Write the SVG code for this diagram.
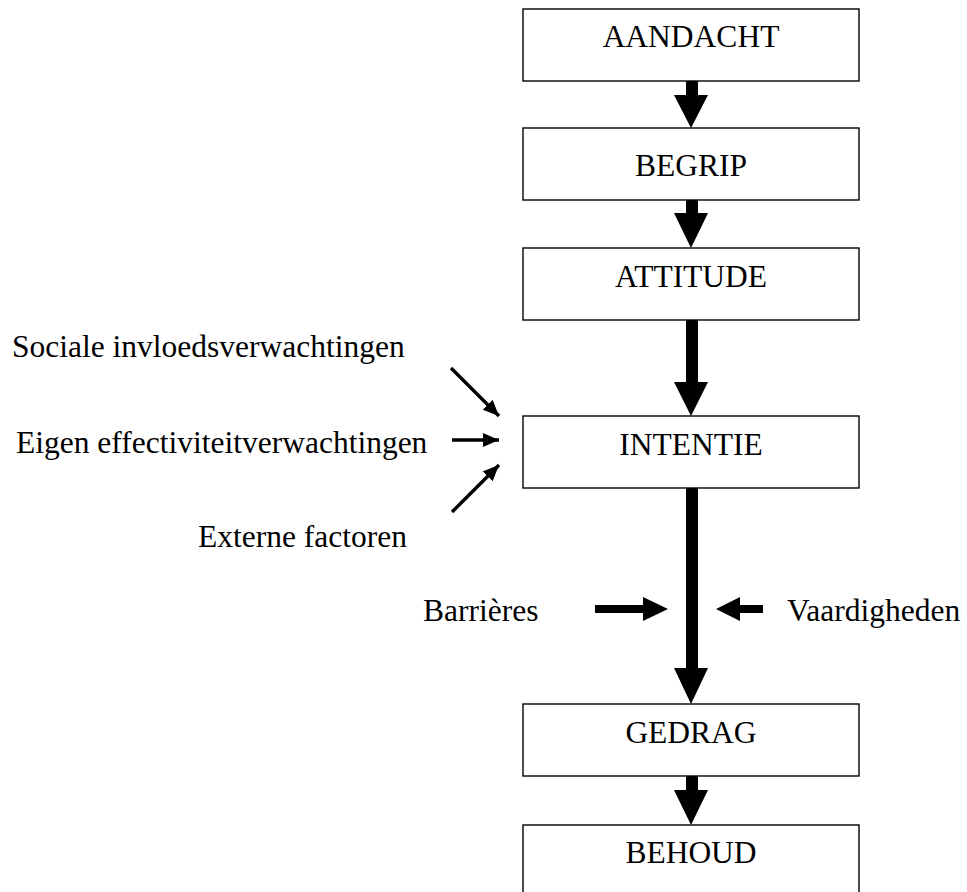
<svg xmlns="http://www.w3.org/2000/svg" width="967" height="892" viewBox="0 0 967 892">
<style>
.box{fill:#fff;stroke:#000;stroke-width:1.4}
.t{font-family:"Liberation Serif","Times New Roman",serif;font-size:31.5px;fill:#000}
.c{text-anchor:middle}
.thin{stroke:#000;stroke-width:3.4;fill:none}
.big{fill:#000;stroke:none}
</style>
<defs>
<marker id="ah" markerUnits="userSpaceOnUse" markerWidth="18" markerHeight="16" refX="16" refY="7" orient="auto">
<path d="M0,0 L16,7 L0,14 Z" fill="#000"/>
</marker>
</defs>
<rect width="967" height="892" fill="#fff"/>
<g id="connectors">
<path class="big" d="M686,80 H698 V95 H708 L691,128 L674,95 H686 Z"/>
<path class="big" d="M686,200 H698 V213 H708 L691,248 L674,213 H686 Z"/>
<path class="big" d="M686,320 H698 V382 H708 L691,416 L674,382 H686 Z"/>
<path class="big" d="M686,488 H698 V668 H708 L691,704 L674,668 H686 Z"/>
<path class="big" d="M686,776 H698 V790 H708 L691,825 L674,790 H686 Z"/>
<path class="big" d="M595,605 H643 V597 L668,609 L643,621 V613 H595 Z"/>
<path class="big" d="M763,605 H740 V597 L716,609 L740,621 V613 H763 Z"/>
<line class="thin" x1="451" y1="368" x2="499" y2="416" marker-end="url(#ah)"/>
<line class="thin" x1="452" y1="440" x2="499" y2="440" marker-end="url(#ah)"/>
<line class="thin" x1="452" y1="512" x2="499" y2="465" marker-end="url(#ah)"/>
</g>
<g id="aandacht"><rect class="box" x="523" y="9" width="336" height="72"/><text class="t c" x="691" y="47">AANDACHT</text></g>
<g id="begrip"><rect class="box" x="523" y="128" width="336" height="72"/><text class="t c" x="691" y="176">BEGRIP</text></g>
<g id="attitude"><rect class="box" x="523" y="248" width="336" height="72"/><text class="t c" x="691" y="287">ATTITUDE</text></g>
<g id="intentie"><rect class="box" x="523" y="416" width="336" height="72"/><text class="t c" x="691" y="455">INTENTIE</text></g>
<g id="gedrag"><rect class="box" x="523" y="704" width="336" height="72"/><text class="t c" x="691" y="743">GEDRAG</text></g>
<g id="behoud"><rect class="box" x="523" y="825" width="336" height="72"/><text class="t c" x="691" y="863">BEHOUD</text></g>
<g id="sociale"><text class="t" x="12" y="357">Sociale invloedsverwachtingen</text></g>
<g id="eigen"><text class="t" x="16" y="453">Eigen effectiviteitverwachtingen</text></g>
<g id="externe"><text class="t" x="198" y="547">Externe factoren</text></g>
<g id="barrieres"><text class="t" x="423" y="621">Barrières</text></g>
<g id="vaardigheden"><text class="t" x="787" y="621">Vaardigheden</text></g>
</svg>
